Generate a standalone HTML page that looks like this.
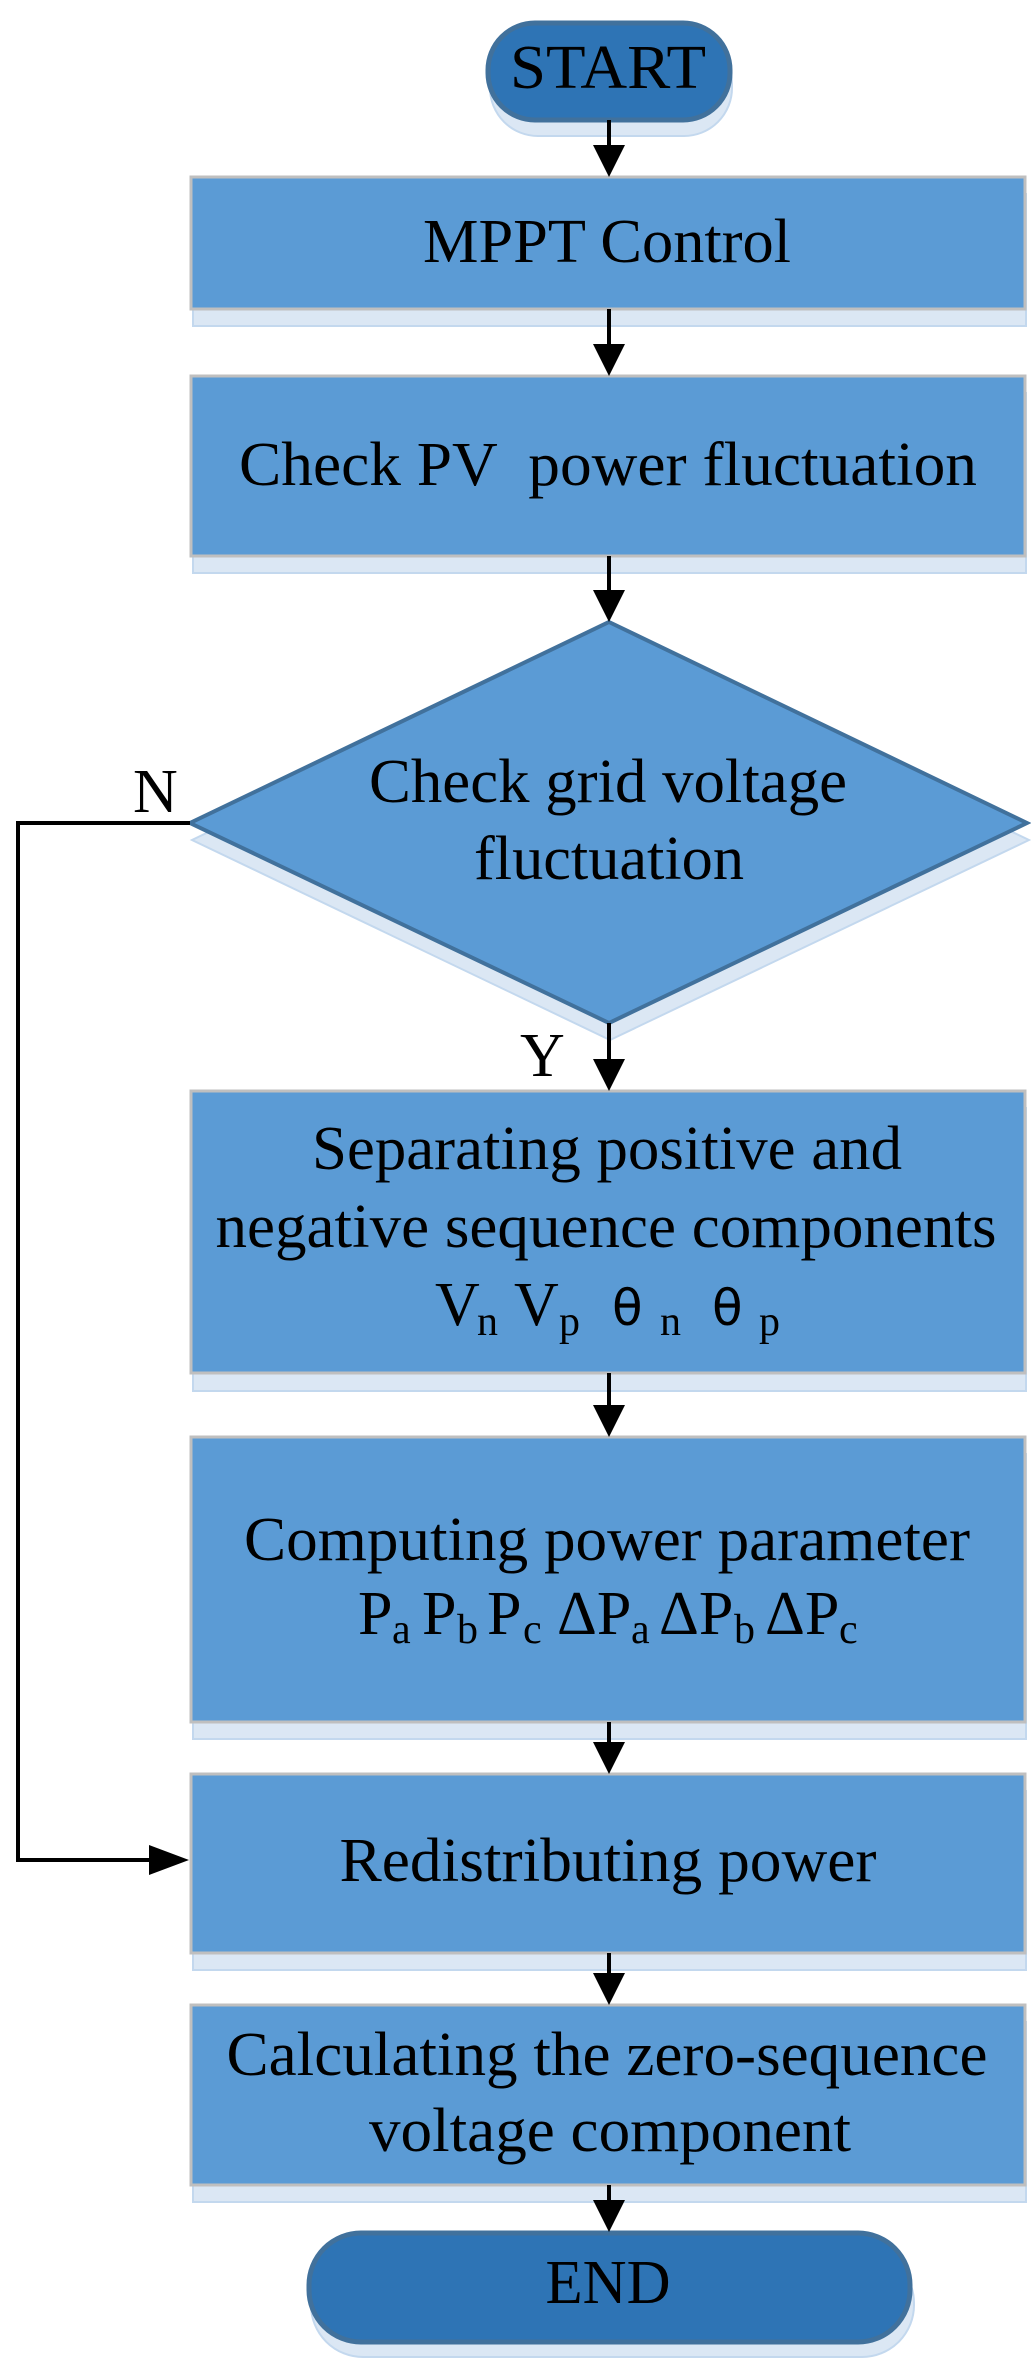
<!DOCTYPE html>
<html><head><meta charset="utf-8"><style>html,body{margin:0;padding:0;background:#fff}svg{display:block}</style></head>
<body>
<svg width="1031" height="2376" viewBox="0 0 1031 2376" xmlns="http://www.w3.org/2000/svg" font-family="'Liberation Serif', serif" fill="#000">
<g fill="#DBE7F4" stroke="#C3D8EE" stroke-width="2">
<rect x="490" y="36" width="242" height="100" rx="48"/>
<rect x="193" y="194" width="833" height="132" />
<rect x="193" y="393" width="833" height="180" />
<polygon points="610,639 1029,840 610,1040 192,840"/>
<rect x="193" y="1108" width="833" height="283"/>
<rect x="193" y="1454" width="833" height="285"/>
<rect x="193" y="1791" width="833" height="179"/>
<rect x="193" y="2022" width="833" height="180"/>
<rect x="311" y="2251" width="603" height="106" rx="52"/>
</g>
<g fill="#5B9BD5" stroke="#BFBFBF" stroke-width="3">
<rect x="191" y="177" width="834" height="132"/>
<rect x="191" y="376" width="834" height="180"/>
<rect x="191" y="1091" width="834" height="282"/>
<rect x="191" y="1437" width="834" height="285"/>
<rect x="191" y="1774" width="834" height="179"/>
<rect x="191" y="2005" width="834" height="180"/>
</g>
<polygon points="609,622 1027,823 609,1023 190,823" fill="#5B9BD5" stroke="#41719C" stroke-width="4"/>
<g fill="#2E74B5" stroke="#41719C" stroke-width="5">
<rect x="488" y="23" width="242" height="97" rx="47"/>
<rect x="309" y="2233" width="601" height="109" rx="52"/>
</g>
<g stroke="#000" stroke-width="4" fill="none">
<line x1="609" y1="120" x2="609" y2="150"/>
<line x1="609" y1="309" x2="609" y2="349"/>
<line x1="609" y1="556" x2="609" y2="595"/>
<line x1="609" y1="1023" x2="609" y2="1064"/>
<line x1="609" y1="1373" x2="609" y2="1410"/>
<line x1="609" y1="1722" x2="609" y2="1747"/>
<line x1="609" y1="1953" x2="609" y2="1978"/>
<line x1="609" y1="2185" x2="609" y2="2205"/>
<polyline points="190,823 18,823 18,1860 160,1860"/>
</g>
<g fill="#000">
<polygon points="593,145 625,145 609,177"/>
<polygon points="593,344 625,344 609,376"/>
<polygon points="593,590 625,590 609,622"/>
<polygon points="593,1059 625,1059 609,1091"/>
<polygon points="593,1405 625,1405 609,1437"/>
<polygon points="593,1742 625,1742 609,1774"/>
<polygon points="593,1973 625,1973 609,2005"/>
<polygon points="593,2200 625,2200 609,2232"/>
<polygon points="149,1845 149,1875 189,1860"/>
</g>
<g font-size="62" text-anchor="middle">
<text x="608" y="88" textLength="196" lengthAdjust="spacingAndGlyphs">START</text>
<text x="607" y="262" textLength="368" lengthAdjust="spacingAndGlyphs">MPPT Control</text>
<text x="608" y="485" textLength="738" lengthAdjust="spacingAndGlyphs" xml:space="preserve">Check PV  power fluctuation</text>
<text x="608" y="802" textLength="478" lengthAdjust="spacingAndGlyphs">Check grid voltage</text>
<text x="609" y="879" textLength="270" lengthAdjust="spacingAndGlyphs">fluctuation</text>
<text x="607" y="1169" textLength="590" lengthAdjust="spacingAndGlyphs">Separating positive and</text>
<text x="606" y="1247" textLength="781" lengthAdjust="spacingAndGlyphs">negative sequence components</text>
<text x="607" y="1560" textLength="726" lengthAdjust="spacingAndGlyphs">Computing power parameter</text>
<text x="608" y="1881" textLength="537" lengthAdjust="spacingAndGlyphs">Redistributing power</text>
<text x="607" y="2075" textLength="761" lengthAdjust="spacingAndGlyphs">Calculating the zero-sequence</text>
<text x="610" y="2151" textLength="482" lengthAdjust="spacingAndGlyphs">voltage component</text>
<text x="608" y="2303" textLength="125" lengthAdjust="spacingAndGlyphs">END</text>
</g>
<g font-size="62">
<text x="133" y="812">N</text>
<text x="520" y="1076">Y</text>
<text x="435" y="1325">V</text>
<text x="514" y="1325">V</text>
<text x="612" y="1325" font-family="'DejaVu Sans', sans-serif" font-size="50">θ</text>
<text x="712" y="1325" font-family="'DejaVu Sans', sans-serif" font-size="50">θ</text>
<text x="358" y="1634">P</text>
<text x="422" y="1634">P</text>
<text x="487" y="1634">P</text>
<text x="557" y="1634">ΔP</text>
<text x="659" y="1634">ΔP</text>
<text x="765" y="1634">ΔP</text>
</g>
<g font-size="42">
<text x="477" y="1335">n</text>
<text x="559" y="1335">p</text>
<text x="660" y="1335">n</text>
<text x="759" y="1335">p</text>
<text x="392" y="1643">a</text>
<text x="457" y="1643">b</text>
<text x="523" y="1643">c</text>
<text x="631" y="1643">a</text>
<text x="734" y="1643">b</text>
<text x="839" y="1643">c</text>
</g>
</svg>
</body></html>
